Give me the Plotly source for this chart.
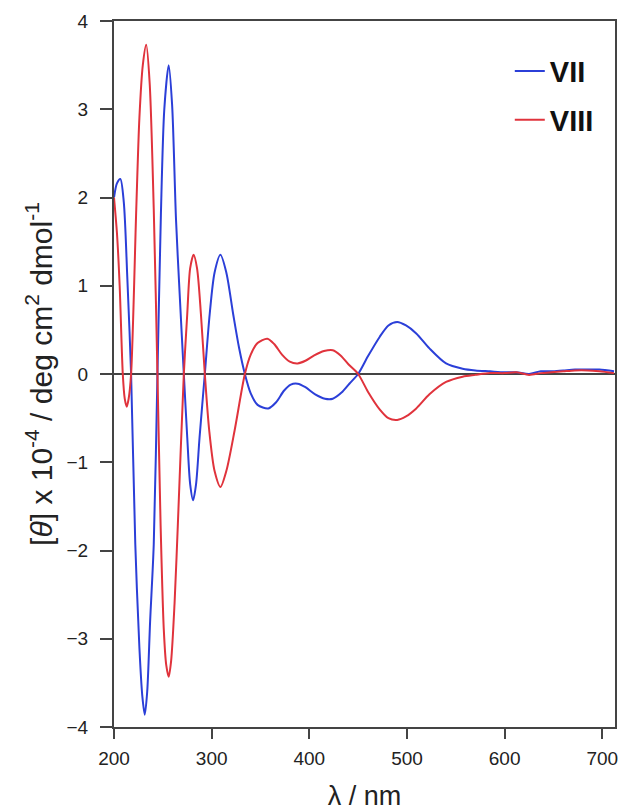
import plotly.graph_objects as go

# wavelength (nm) and molar ellipticity x 10^-4
wl_vii = [200, 203, 206.5, 210, 213.6, 217.5, 221.8, 226, 229, 231.5, 234, 237, 240.7, 244.5,
          248, 251.5, 256, 259.5, 263.5, 267.5, 271.5, 275, 278, 281, 284, 287.6, 293,
          298, 303, 309, 315, 322, 328, 334, 340, 347, 358, 366, 374, 381, 388, 396, 406,
          416, 424, 433, 441, 450, 460, 472, 481, 490, 499, 509.5, 523, 540, 557,
          570, 585, 600, 612, 625, 637, 648, 660, 672, 685, 697, 712]
val_vii = [2.00, 2.16, 2.21, 1.95, 1.10, 0.00, -1.93, -3.10, -3.65, -3.86, -3.60, -2.80, -1.93, 0.00,
           1.80, 3.00, 3.50, 3.05, 1.75, 0.85, 0.00, -0.72, -1.25, -1.43, -1.25, -0.72, 0.00,
           0.68, 1.15, 1.35, 1.15, 0.68, 0.30, 0.00, -0.22, -0.35, -0.39, -0.32, -0.19, -0.12, -0.11, -0.15, -0.23,
           -0.28, -0.28, -0.21, -0.11, 0.00, 0.20, 0.42, 0.55, 0.59, 0.55, 0.46, 0.29, 0.12, 0.06,
           0.04, 0.03, 0.02, 0.02, 0.00, 0.03, 0.03, 0.04, 0.05, 0.05, 0.05, 0.03]

wl_viii = [200, 203, 205.8, 209, 211, 213, 215, 217.5, 222.8, 226, 229.5, 233, 236.5, 240.7, 244.5,
           247.7, 251, 253.5, 256, 258.5, 262, 265.4, 271.5, 275, 278, 281.5, 285, 289, 293,
           297.5, 303, 309, 315, 323.5, 334, 340, 347, 357, 364, 372, 380, 388, 396, 405,
           415, 424, 432, 440, 450, 460, 472, 481, 490, 499, 509.5, 523, 540, 557,
           570, 585, 600, 612, 625, 637, 648, 660, 672, 685, 697, 712]
val_viii = [2.00, 1.60, 1.00, 0.00, -0.28, -0.37, -0.28, 0.00, 1.87, 2.90, 3.50, 3.73, 3.30, 1.87, 0.00,
            -1.70, -2.90, -3.30, -3.43, -3.25, -2.60, -1.70, 0.00, 0.68, 1.20, 1.35, 1.20, 0.68, 0.00,
            -0.64, -1.10, -1.28, -1.10, -0.64, 0.00, 0.22, 0.35, 0.40, 0.34, 0.22, 0.14, 0.12, 0.15, 0.21,
            0.26, 0.27, 0.21, 0.11, 0.00, -0.20, -0.40, -0.50, -0.52, -0.48, -0.39, -0.23, -0.09, -0.03,
            -0.01, 0.01, 0.01, 0.02, -0.01, 0.01, 0.02, 0.03, 0.04, 0.04, 0.03, 0.01]

x_ticks = [200, 300, 400, 500, 600, 700]
y_ticks = [-4, -3, -2, -1, 0, 1, 2, 3, 4]

FONT = "Liberation Sans, Arial, Helvetica, sans-serif"

fig = go.Figure()
fig.add_trace(go.Scatter(x=wl_vii, y=val_vii, mode="lines", name="VII", legendgroup="a",
                         line=dict(color="#2b3fd8", width=2, shape="spline", smoothing=0.8)))
fig.add_trace(go.Scatter(x=wl_viii, y=val_viii, mode="lines", name="VIII", legendgroup="b",
                         line=dict(color="#e0333c", width=2, shape="spline", smoothing=0.8)))

fig.update_layout(
    width=628, height=803,
    margin=dict(l=106, r=21, t=13, b=84),
    paper_bgcolor="white", plot_bgcolor="white",
    font=dict(family=FONT, color="#222222"),
    showlegend=True,
    legend=dict(x=0.79, y=0.965, xanchor="left", yanchor="top",
                font=dict(family=FONT, size=29, color="#111111", weight="bold"),
                tracegroupgap=8, bgcolor="rgba(0,0,0,0)"),
)
fig.update_xaxes(range=[200, 713], tickvals=x_ticks, ticks="outside", ticklen=10, tickwidth=1.5,
                 tickcolor="#444", showline=True, linecolor="#444", linewidth=2, mirror=True,
                 showgrid=False, zeroline=False, tickfont=dict(size=19, family=FONT, color="#222"),
                 ticklabelstandoff=3, automargin=False,
                 title=dict(text="λ / nm", font=dict(size=27, family=FONT, color="#222"), standoff=22))
fig.update_yaxes(range=[-4, 4], tickvals=y_ticks, ticks="outside", ticklen=12, tickwidth=1.5,
                 tickcolor="#444", showline=True, linecolor="#444", linewidth=2, mirror=True,
                 showgrid=False, zeroline=True, zerolinecolor="#444", zerolinewidth=2,
                 tickfont=dict(size=19, family=FONT, color="#222"), ticklabelstandoff=8,
                 automargin=False,
                 title=dict(text="[<i>θ</i>] x 10<sup>-4</sup> / deg cm<sup>2</sup> dmol<sup>-1</sup>",
                            font=dict(size=30, family=FONT, color="#222"), standoff=5))

fig.write_html("out.html")
